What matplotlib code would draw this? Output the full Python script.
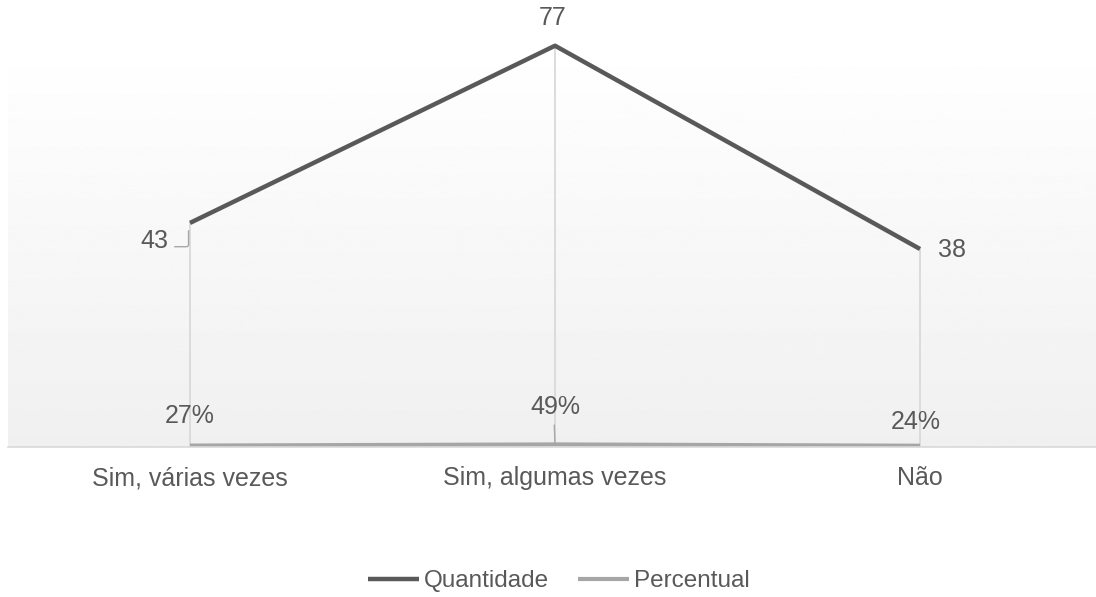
import numpy as np
import matplotlib.pyplot as plt

plt.rcParams['font.family'] = ['Liberation Sans', 'DejaVu Sans']

categories = ['Sim, várias vezes', 'Sim, algumas vezes', 'Não']
quantidade = [43, 77, 38]
percentual = [0.27, 0.49, 0.24]
percent_labels = ['27%', '49%', '24%']

fig = plt.figure(figsize=(10.96, 5.97), dpi=100)
ax = fig.add_axes([7.5 / 1096, 1 - 447 / 597, 1095 / 1096, 407 / 597])

x = np.arange(len(categories))
ax.set_xlim(-0.5, 2.5)
ax.set_ylim(0, 78.1)

# gradient background
grad = np.linspace(1.0, 0.94, 256).reshape(-1, 1)
ax.imshow(grad, cmap='gray', vmin=0, vmax=1, aspect='auto',
          extent=(-0.5, 2.5, 0, 78.1), zorder=0)

# drop lines
for xi, q in zip(x, quantidade):
    ax.plot([xi, xi], [0, q], color='#d9d9d9', lw=1.3, zorder=1)

ax.plot(x, quantidade, color='#595959', lw=3.2, label='Quantidade', zorder=3,
        solid_capstyle='butt')
ax.plot(x, percentual, color='#a6a6a6', lw=3, label='Percentual', zorder=2,
        solid_capstyle='butt')

lc = '#595959'
fs = 18
# quantity labels
ax.annotate('43', (0, 43), xytext=(-26, -13), textcoords='offset points',
            ha='center', va='center', fontsize=fs, color=lc)
ax.annotate('', (-0.004, 43 - 1.5), xytext=(-10, -11.5), textcoords='offset points',
            arrowprops=dict(arrowstyle='-', color='#a6a6a6', lw=1,
                            connectionstyle='angle,angleA=0,angleB=90,rad=2',
                            shrinkA=0, shrinkB=0))
ax.annotate('77', (1, 77), xytext=(-2, 20), textcoords='offset points',
            ha='center', va='center', fontsize=fs, color=lc)
ax.annotate('38', (2, 38), xytext=(23, -1), textcoords='offset points',
            ha='center', va='center', fontsize=fs, color=lc)
# percent labels
ax.annotate(percent_labels[0], (0, percentual[0]), xytext=(0, 21), textcoords='offset points',
            ha='center', va='center', fontsize=fs, color=lc)
ax.annotate(percent_labels[1], (1, percentual[1]), xytext=(0, 27), textcoords='offset points',
            ha='center', va='center', fontsize=fs, color=lc)
ax.annotate('', (1, percentual[1]), xytext=(-0.5, 14), textcoords='offset points',
            arrowprops=dict(arrowstyle='-', color='#a6a6a6', lw=1,
                            shrinkA=0, shrinkB=0))
ax.annotate(percent_labels[2], (2, percentual[2]), xytext=(-3, 17), textcoords='offset points',
            ha='center', va='center', fontsize=fs, color=lc)

ax.set_xticks(x)
ax.set_xticklabels(categories, fontsize=fs, color=lc)
ax.tick_params(axis='x', length=0, pad=14)
ax.set_yticks([])
for s in ['top', 'right', 'left']:
    ax.spines[s].set_visible(False)
ax.spines['bottom'].set_color('#d9d9d9')
ax.spines['bottom'].set_linewidth(1.2)

fig.legend(loc='center', bbox_to_anchor=(559 / 1096, 1 - 581 / 597),
           ncol=2, frameon=False, fontsize=17.5, labelcolor=lc,
           handlelength=2.1, handletextpad=0.2, columnspacing=1.2)

fig.savefig('out.png', dpi=100, facecolor='white')
